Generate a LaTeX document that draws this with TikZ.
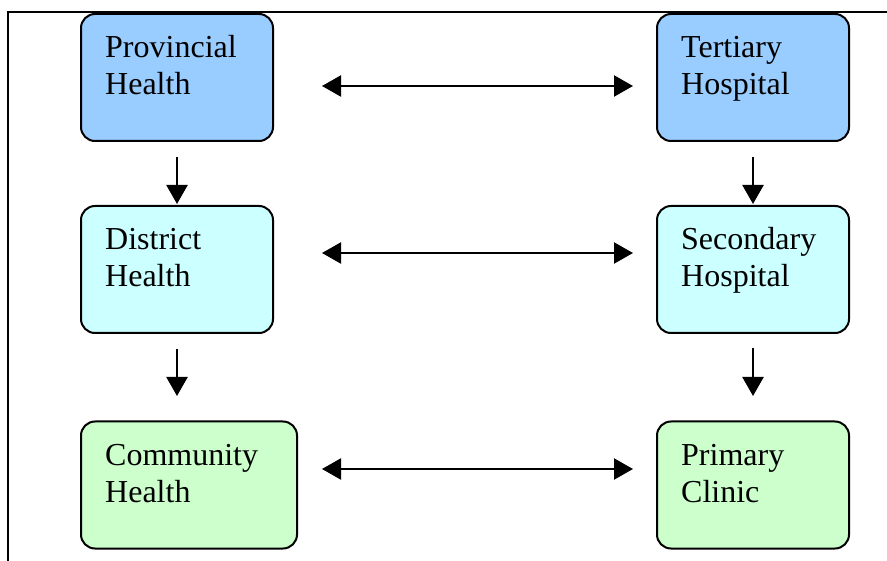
\documentclass[tikz,border=0pt]{standalone}
\usepackage{fontspec}
\setmainfont{Liberation Serif}
\usetikzlibrary{arrows.meta,positioning}
\definecolor{provblue}{HTML}{99CCFF}
\definecolor{distcyan}{HTML}{CCFFFF}
\definecolor{commgreen}{HTML}{CCFFCC}
\tikzset{
    raw level box/.style={rectangle, draw=black, line width=2pt, rounded corners=14pt, minimum height=127pt, inner sep=0pt},
    top level/.style={raw level box, fill=provblue, minimum width=192pt},
    mid level/.style={raw level box, fill=distcyan, minimum width=192pt},
    low level/.style={raw level box, fill=commgreen},
    box text/.style={anchor=base west, align=left, inner sep=0pt, font=\fontsize{32}{37}\selectfont},
    down link/.style={line width=2.2pt, -{Triangle[length=19pt,width=21pt]}},
    both link/.style={line width=2.2pt, {Triangle[length=19pt,width=21pt]}-{Triangle[length=19pt,width=21pt]}}
}
\begin{document}
\begin{tikzpicture}[x=1pt,y=-1pt]
	\useasboundingbox (0,0) rectangle (887,561);
	% frame
	\draw[line width=1.3pt] (887,12) -- (8,12) -- (8,561);
	% health side
	\node[top level] (prov) at (177,77.5) {};
	\node[mid level] (dist) at (177,269.5) {};
	\node[low level, minimum width=216pt] (comm) at (189,485) {};
	% hospital side
	\node[top level] (tert) at (753,77.5) {};
	\node[mid level] (sec) at (753,269.5) {};
	\node[low level, minimum width=192pt] (prim) at (753,485) {};
	% texts (base = last line)
	\node[box text] (prov text) at ([shift={(25,82)}]prov.north west) {Provincial\\Health};
	\node[box text] (dist text) at ([shift={(25,82)}]dist.north west) {District\\Health};
	\node[box text] (comm text) at ([shift={(25,82)}]comm.north west) {Community\\Health};
	\node[box text] (tert text) at ([shift={(25,82)}]tert.north west) {Tertiary\\Hospital};
	\node[box text] (sec text) at ([shift={(25,82)}]sec.north west) {Secondary\\Hospital};
	\node[box text] (prim text) at ([shift={(25,82)}]prim.north west) {Primary\\Clinic};
	% arrow ends
	\coordinate (h1 l) at (322,86);  \coordinate (h1 r) at (633,86);
	\coordinate (h2 l) at (322,253); \coordinate (h2 r) at (633,253);
	\coordinate (h3 l) at (322,469); \coordinate (h3 r) at (633,469);
	\coordinate (v1 t) at (177,157); \coordinate (v1 b) at (177,204);
	\coordinate (v2 t) at (177,349); \coordinate (v2 b) at (177,396);
	\coordinate (v3 t) at (753,157); \coordinate (v3 b) at (753,204);
	\coordinate (v4 t) at (753,348); \coordinate (v4 b) at (753,396);
	\draw[both link] (h1 l) -- (h1 r);
	\draw[both link] (h2 l) -- (h2 r);
	\draw[both link] (h3 l) -- (h3 r);
	\draw[down link] (v1 t) -- (v1 b);
	\draw[down link] (v2 t) -- (v2 b);
	\draw[down link] (v3 t) -- (v3 b);
	\draw[down link] (v4 t) -- (v4 b);
\end{tikzpicture}
\end{document}
